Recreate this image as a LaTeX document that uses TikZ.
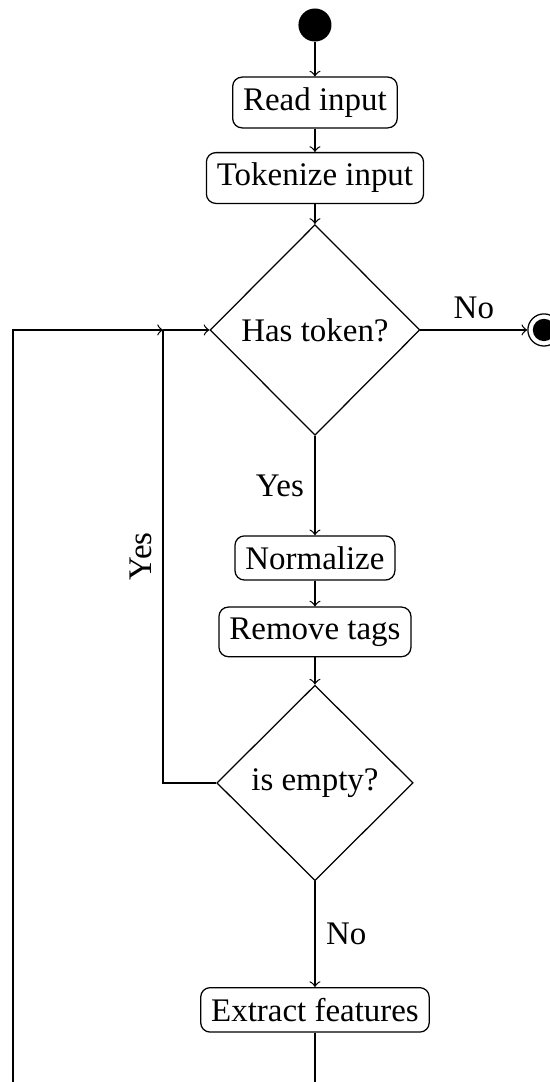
\documentclass[tikz,border=0pt]{standalone}
\usepackage{fontspec}
\setmainfont{Liberation Serif}
\usetikzlibrary{shapes.geometric}
\tikzset{>=to,
  every node/.style={font=\fontsize{10.5}{12}\selectfont},
  action/.style={draw, rounded corners=3pt},
  decision/.style={draw, diamond, inner sep=0pt},
  startnode/.style={circle, fill=black, inner sep=0pt, minimum size=0.37cm},
  stopnode/.style={circle, draw, inner sep=0pt, minimum size=0.36cm}}

\begin{document}
\begin{tikzpicture}
\useasboundingbox (0,0) rectangle (6.16,-12.12);
\clip (0,0) rectangle (6.16,-12.12);

\node[startnode] (0) at (3.528,-0.28) {};
\node[action] (1) at (3.528,-1.148) {Read input};
\node[action] (2) at (3.528,-1.994) {Tokenize input};
\node[decision, minimum width=2.35cm, minimum height=2.36cm] (3) at (3.528,-3.696) {Has token?};
\node[action] (4) at (3.528,-6.25) {Normalize};
\node[action] (5) at (3.528,-7.078) {Remove tags};
\node[decision, minimum width=2.2cm, minimum height=2.19cm] (6) at (3.528,-8.77) {is empty?};
\node[action] (7) at (3.528,-11.312) {Extract features};
\node[stopnode] (8) at (6.093,-3.696) {};
\fill (8.center) circle (0.125cm);

\coordinate (j) at (1.826,-3.696);
\coordinate (k) at (0.146,-12.6);

\path[->] (0) edge (1);
\path[->] (1) edge (2);
\path[->] (2) edge (3);
\path[->] (3) edge node[above] {No} (8);
\path[->] (3) edge node[left] {Yes} (4);
\path[->] (4) edge (5);
\path[->] (5) edge (6);
\path[->] (6) edge node[right] {No} (7);

\draw (6.west) -| node[pos=0.75, above, sloped] {Yes} (j);
\draw[->] (j) -- (3.west);
\draw[->] (7.south) |- (k) |- (j);
\end{tikzpicture}
\end{document}
